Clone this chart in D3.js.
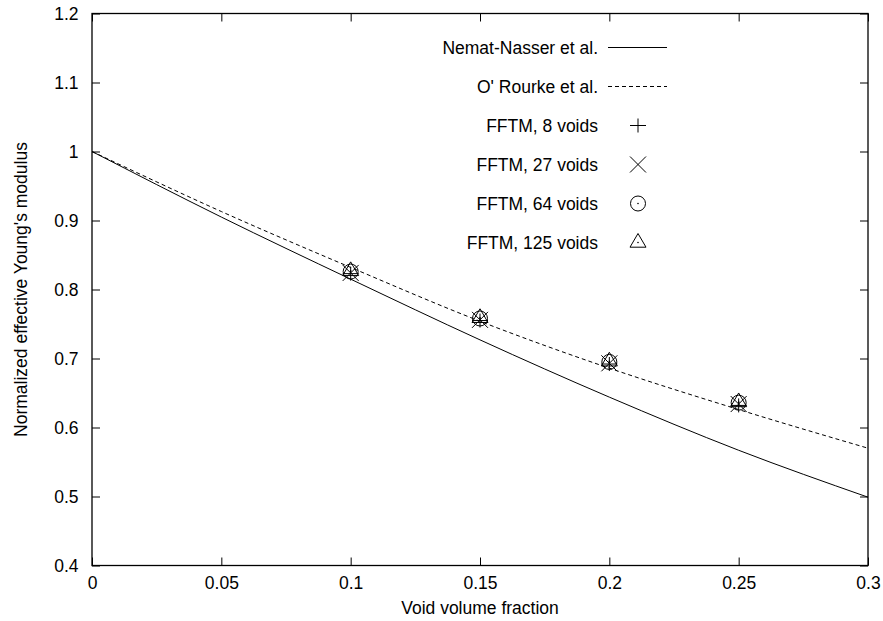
<!DOCTYPE html>
<html><head><meta charset="utf-8">
<script src="https://cdn.jsdelivr.net/npm/d3@7"></script>
<style>body{margin:0;background:#fff}text{font-family:"Liberation Sans",Arial,sans-serif;font-size:17.5px;fill:#000}</style>
</head><body>
<svg id="c" width="883" height="621"></svg>
<script>
const xTicks = [0, 0.05, 0.1, 0.15, 0.2, 0.25, 0.3];
const yTicks = [0.4, 0.5, 0.6, 0.7, 0.8, 0.9, 1, 1.1, 1.2];
const curveX = [0, 0.05, 0.1, 0.15, 0.2, 0.25, 0.3];
const nematNasser = [1, 0.905, 0.815, 0.727, 0.644, 0.567, 0.499];
const oRourke = [1, 0.913, 0.832, 0.754, 0.686, 0.626, 0.570];
const fftmX = [0.1, 0.15, 0.2, 0.25];
const fftm8 = [0.823, 0.755, 0.692, 0.632];
const fftm27 = [0.824, 0.756, 0.693, 0.634];
const fftm64 = [0.826, 0.758, 0.695, 0.636];
const fftm125 = [0.827, 0.759, 0.696, 0.637];

const svg = d3.select("#c");
const L = 92, R = 868, T = 13.5, B = 565.5;
const FS = "17.5px";
const x = d3.scaleLinear().domain([0, 0.3]).range([L, R]);
const y = d3.scaleLinear().domain([0.4, 1.2]).range([B, T]);
const fmt = d => d3.format("")(+d.toFixed(2));

// axes with inward ticks
const tl = 8;
svg.append("g").attr("transform", `translate(0,${B})`)
  .call(d3.axisBottom(x).tickValues(xTicks).tickSize(-tl).tickPadding(11).tickFormat(fmt))
  .call(g => g.select(".domain").remove());
svg.append("g").attr("transform", `translate(0,${T})`)
  .call(d3.axisTop(x).tickValues(xTicks).tickSize(-tl).tickFormat(""))
  .call(g => g.select(".domain").remove());
svg.append("g").attr("transform", `translate(${L},0)`)
  .call(d3.axisLeft(y).tickValues(yTicks).tickSize(-tl).tickPadding(13.5).tickFormat(fmt))
  .call(g => g.select(".domain").remove());
svg.append("g").attr("transform", `translate(${R},0)`)
  .call(d3.axisRight(y).tickValues(yTicks).tickSize(-tl).tickFormat(""))
  .call(g => g.select(".domain").remove());
svg.selectAll(".tick line").attr("stroke", "#000");
svg.selectAll(".tick text").style("font-size", FS).style("font-family", "Liberation Sans, Arial, sans-serif");
svg.append("rect").attr("x", L).attr("y", T).attr("width", R - L).attr("height", B - T)
  .attr("fill", "none").attr("stroke", "#000").attr("stroke-width", 1.3);

// titles
svg.append("text").attr("x", (L + R) / 2).attr("y", 614).attr("text-anchor", "middle").text("Void volume fraction");
svg.append("text").attr("transform", `translate(27,${(T + B) / 2}) rotate(-90)`).attr("text-anchor", "middle").text("Normalized effective Young's modulus");

// curves
const line = d3.line().x(d => x(d[0])).y(d => y(d[1])).curve(d3.curveMonotoneX);
svg.append("path").datum(curveX.map((v, i) => [v, nematNasser[i]])).attr("d", line)
  .attr("fill", "none").attr("stroke", "#000").attr("stroke-width", 1);
svg.append("path").datum(curveX.map((v, i) => [v, oRourke[i]])).attr("d", line)
  .attr("fill", "none").attr("stroke", "#000").attr("stroke-width", 1).attr("stroke-dasharray", "4,3");

// markers
function plus(g, cx, cy) { g.append("path").attr("d", `M${cx - 8},${cy}H${cx + 8}M${cx},${cy - 7}V${cy + 7}`).attr("stroke", "#000").attr("fill", "none"); }
function cross(g, cx, cy) { const k = 8; g.append("path").attr("d", `M${cx - k},${cy - k}L${cx + k},${cy + k}M${cx - k},${cy + k}L${cx + k},${cy - k}`).attr("stroke", "#000").attr("fill", "none"); }
function circ(g, cx, cy) { g.append("circle").attr("cx", cx).attr("cy", cy).attr("r", 7.5).attr("stroke", "#000").attr("fill", "none");
  g.append("circle").attr("cx", cx).attr("cy", cy).attr("r", 0.8).attr("fill", "#000"); }
function tri(g, cx, cy) { g.append("path").attr("d", `M${cx},${cy - 9}L${cx + 8},${cy + 4.7}L${cx - 8},${cy + 4.7}Z`).attr("stroke", "#000").attr("fill", "none");
  g.append("circle").attr("cx", cx).attr("cy", cy).attr("r", 0.8).attr("fill", "#000"); }
const series = [[fftm8, plus], [fftm27, cross], [fftm64, circ], [fftm125, tri]];
const mg = svg.append("g");
series.forEach(([vals, fn]) => fftmX.forEach((v, i) => fn(mg, x(v), y(vals[i]))));

// legend
const labels = ["Nemat-Nasser et al.", "O' Rourke et al.", "FFTM, 8 voids", "FFTM, 27 voids", "FFTM, 64 voids", "FFTM, 125 voids"];
const lg = svg.append("g");
labels.forEach((t, i) => {
  const ly = 47.5 + i * 39;
  lg.append("text").attr("x", 598).attr("y", ly + 6).attr("text-anchor", "end").text(t);
  if (i === 0) lg.append("line").attr("x1", 608).attr("x2", 667).attr("y1", ly).attr("y2", ly).attr("stroke", "#000");
  else if (i === 1) lg.append("line").attr("x1", 608).attr("x2", 667).attr("y1", ly).attr("y2", ly).attr("stroke", "#000").attr("stroke-dasharray", "4,3");
  else series[i - 2][1](lg, 638, ly);
});
</script>
</body></html>
